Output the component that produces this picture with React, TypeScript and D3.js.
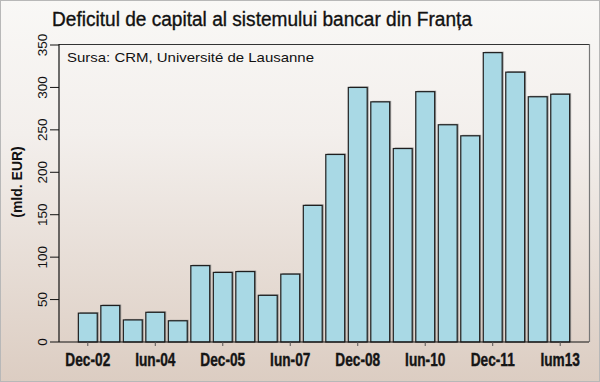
import React from "react";
import * as d3 from "d3";

const periods = [
  "Dec-02", "Jun-03", "Dec-03", "Jun-04", "Dec-04", "Jun-05", "Dec-05", "Jun-06",
  "Dec-06", "Jun-07", "Dec-07", "Jun-08", "Dec-08", "Jun-09", "Dec-09", "Jun-10",
  "Dec-10", "Jun-11", "Dec-11", "Jun-12", "Dec-12", "Jun-13",
];
const values = [
  34, 43, 26, 35, 25, 90, 82, 83, 55, 80, 161, 221, 300, 283, 228, 295,
  256, 243, 341, 318, 289, 292,
];
const tickPeriods = ["Dec-02", "Jun-04", "Dec-05", "Jun-07", "Dec-08", "Jun-10", "Dec-11", "Jun-13"];
const tickLabels = ["Dec-02", "Iun-04", "Dec-05", "Iun-07", "Dec-08", "Iun-10", "Dec-11", "Ium13"];
const yTicks = [0, 50, 100, 150, 200, 250, 300, 350];

const W = 600;
const H = 382;
const left = 59;
const right = 589;
const top = 45;
const bottom = 342;

export default function App() {
  const x = d3
    .scaleBand<string>()
    .domain(periods)
    .range([left, right])
    .paddingInner(0.16)
    .paddingOuter(0.86);
  const y = d3.scaleLinear().domain([0, 350]).range([bottom, top]);
  const bw = x.bandwidth();

  return (
    <svg
      width={W}
      height={H}
      style={{ position: "absolute", left: 0, top: 0 }}
      fontFamily="'Liberation Sans', Arial, sans-serif"
    >
      <defs>
        <linearGradient id="bg" x1="0" y1="0" x2="0" y2="1">
          <stop offset="0" stopColor="#f9f8f6" />
          <stop offset="0.35" stopColor="#f3efec" />
          <stop offset="1" stopColor="#dccdc2" />
        </linearGradient>
      </defs>
      <rect x={0.5} y={0.5} width={W - 1} height={H - 1} fill="url(#bg)" stroke="#b8b8b8" />
      <text
        x={52}
        y={26}
        fontSize={20}
        fill="#111"
        stroke="#111"
        strokeWidth={0.35}
        textLength={420}
        lengthAdjust="spacingAndGlyphs"
      >
        Deficitul de capital al sistemului bancar din Franța
      </text>
      {/* frame */}
      <line x1={left} x2={right} y1={top - 0.5} y2={top - 0.5} stroke="#333" strokeWidth={1} />
      <line x1={right + 0.5} x2={right + 0.5} y1={top - 1} y2={bottom} stroke="#777" strokeWidth={1.2} />
      <text x={67} y={62} fontSize={13.5} fill="#111" textLength={247} lengthAdjust="spacingAndGlyphs">
        Sursa: CRM, Université de Lausanne
      </text>
      {/* bars */}
      {values.map((v, i) => {
        const bx = x(periods[i])!;
        return (
          <g key={periods[i]}>
            <rect x={bx + 1.5} y={y(v) - 1} width={bw} height={bottom - y(v) + 1} fill="#7d7d7d" opacity={0.7} />
            <rect x={bx} y={y(v)} width={bw} height={bottom - y(v)} fill="#a9d9e5" stroke="#1e1e1e" strokeWidth={1.2} />
          </g>
        );
      })}
      {/* axes */}
      <line x1={left} x2={left} y1={top - 1} y2={bottom} stroke="#111" strokeWidth={1.2} />
      <line x1={left} x2={right} y1={bottom} y2={bottom} stroke="#111" strokeWidth={1.2} />
      {yTicks.map((t) => (
        <g key={t}>
          <line x1={50} x2={left} y1={y(t)} y2={y(t)} stroke="#111" strokeWidth={1} />
          <text
            transform={`translate(47,${y(t)}) rotate(-90)`}
            textAnchor="middle"
            fontSize={13.5}
            fill="#111"
          >
            {t}
          </text>
        </g>
      ))}
      {tickPeriods.map((p, i) => {
        const cx = x(p)! + bw / 2;
        return (
          <g key={p}>
            <line x1={cx} x2={cx} y1={bottom} y2={bottom + 4} stroke="#555" strokeWidth={1} />
            <text
              transform={`translate(${cx},365.5) scale(0.74,1)`}
              textAnchor="middle"
              fontSize={18.5}
              fontWeight="bold"
              stroke="#151515"
              strokeWidth={0.4}
              fill="#151515"
            >
              {tickLabels[i]}
            </text>
          </g>
        );
      })}
      <text
        transform={`translate(22,182) rotate(-90)`}
        textAnchor="middle"
        fontSize={14}
        fontWeight="bold"
        fill="#111"
      >
        (mld. EUR)
      </text>
    </svg>
  );
}
